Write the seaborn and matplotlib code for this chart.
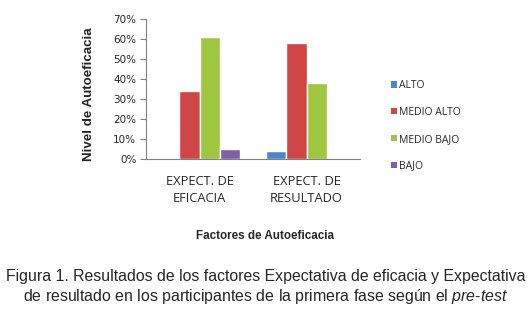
import pandas as pd
import matplotlib
matplotlib.use("Agg")
import matplotlib.pyplot as plt
import seaborn as sns
from matplotlib.ticker import PercentFormatter, MultipleLocator
from matplotlib.patches import Patch

# datos
factores = ["EXPECT. DE\nEFICACIA", "EXPECT. DE\nRESULTADO"]
niveles = ["ALTO", "MEDIO ALTO", "MEDIO BAJO", "BAJO"]
eficacia = [0.0, 0.34, 0.61, 0.05]
resultado = [0.04, 0.58, 0.38, 0.0]

colores = ["#4A86D0", "#D04545", "#9FC640", "#7F5FA8"]

df = pd.DataFrame({
    "factor": [factores[0]] * 4 + [factores[1]] * 4,
    "nivel": niveles * 2,
    "valor": eficacia + resultado,
})

sns.set_style("white")
plt.rcParams['font.family'] = ['Liberation Sans', 'DejaVu Sans']
plt.rcParams['mathtext.fontset'] = 'custom'
plt.rcParams['mathtext.rm'] = 'Liberation Sans'
plt.rcParams['mathtext.it'] = 'Liberation Sans:italic'

fig = plt.figure(figsize=(5.31, 3.14), dpi=100)
ax = fig.add_axes([0.275, 0.494, 0.403, 0.445])

sns.barplot(data=df, x="factor", y="valor", hue="nivel", hue_order=niveles,
            palette=colores, saturation=1, width=0.75, ax=ax, legend=False)

ax.set_ylim(0, 0.7)
ax.set_xlim(-0.5, 1.5)
ax.yaxis.set_major_locator(MultipleLocator(0.1))
ax.yaxis.set_major_formatter(PercentFormatter(1.0, decimals=0))
for s in ["top", "right"]:
    ax.spines[s].set_visible(False)
for s in ["left", "bottom"]:
    ax.spines[s].set_color("#808080")
    ax.spines[s].set_linewidth(0.8)
ax.tick_params(axis="y", left=True, length=4, color="#808080", pad=3)
ax.tick_params(axis="x", bottom=False, labelsize=9.3, pad=8)
for t in ax.get_yticklabels():
    t.set_family("DejaVu Sans")
    t.set_fontsize(7.5)
for t in ax.get_xticklabels():
    t.set_family("Open Sans")
    t.set_linespacing(1.45)

ax.set_ylabel("Nivel de Autoeficacia", fontsize=9.6, fontweight="bold")
ax.yaxis.set_label_coords(-0.24, 0.46)
ax.set_xlabel("")
fig.text(0.5, 1 - 236 / 314, "Factores de Autoeficacia", ha="center", va="center",
         fontsize=8.4, fontweight="bold")

# leyenda
handles = [Patch(facecolor=c, edgecolor="none") for c in colores]
fig.legend(handles, niveles, loc="upper left", bbox_to_anchor=(0.718, 0.775),
           frameon=False, handlelength=0.6, handleheight=0.6,
           handletextpad=0.2, labelspacing=1.52, prop={"family": "Open Sans", "size": 7.5})

fig.text(0.5, 1 - 276 / 314,
         "Figura 1. Resultados de los factores Expectativa de eficacia y Expectativa",
         ha="center", va="center", fontsize=11.4)
fig.text(0.5, 1 - 296 / 314,
         "de resultado en los participantes de la primera fase según el $\\it{pre}$-$\\it{test}$",
         ha="center", va="center", fontsize=11.4)

fig.savefig("out.png", dpi=100)
